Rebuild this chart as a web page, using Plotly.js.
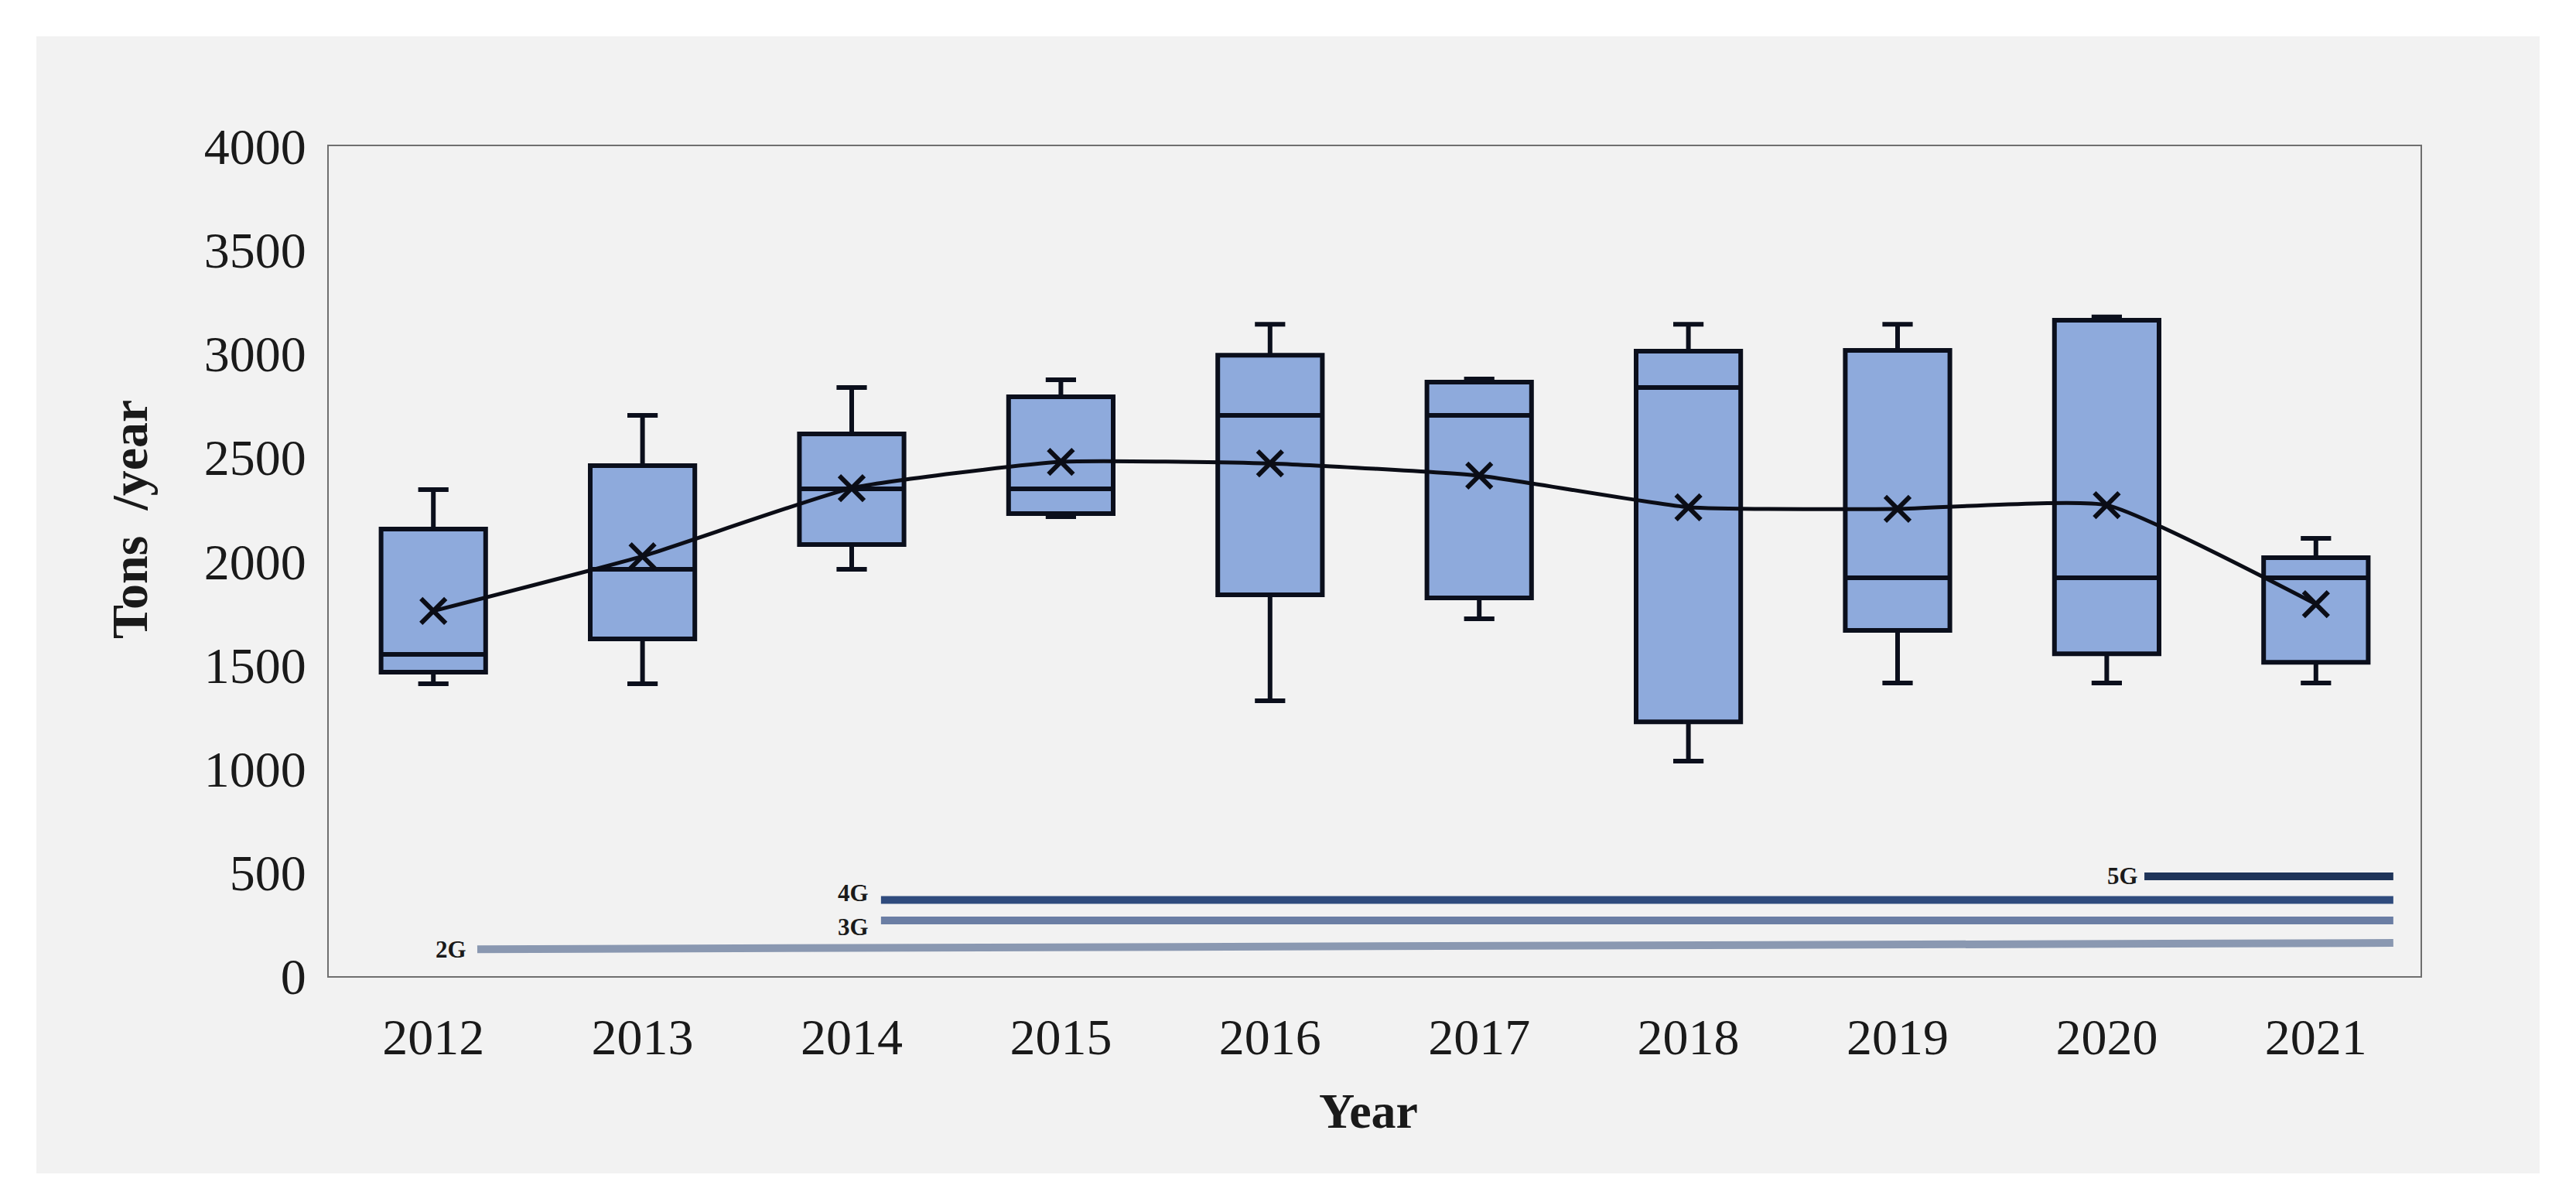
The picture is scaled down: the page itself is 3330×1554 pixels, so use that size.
<!DOCTYPE html>
<html>
<head>
<meta charset="utf-8">
<script src="https://cdn.plot.ly/plotly-3.0.1.min.js"></script>
<style>
  html, body { margin: 0; padding: 0; background: #ffffff; width: 3330px; height: 1554px; overflow: hidden; }
  #chart { position: absolute; left: 47px; top: 47px; width: 3236px; height: 1470px; }
</style>
</head>
<body>
<div id="chart"></div>
<script>
// ---- data ----
const years      = [2012, 2013, 2014, 2015, 2016, 2017, 2018, 2019, 2020, 2021];
const lowerFence = [1409, 1409, 1961, 2214, 1327, 1722, 1036, 1413, 1413, 1413];
const q1         = [1465, 1625, 2080, 2229, 1838, 1823, 1226, 1666, 1554, 1513];
const median     = [1551, 1961, 2349, 2349, 2703, 2703, 2837, 1920, 1920, 1920];
const q3         = [2155, 2460, 2613, 2792, 2993, 2863, 3012, 3016, 3161, 2017];
const upperFence = [2345, 2703, 2837, 2874, 3142, 2878, 3142, 3142, 3177, 2110];
const meanVal    = [1760, 2024, 2352, 2479, 2471, 2412, 2260, 2252, 2270, 1793];

// mobile network generations (timeline bars at the bottom)
const genNames      = ['2G', '3G', '4G', '5G'];
const genStartYear  = [2012.21, 2014.14, 2014.14, 2020.18];
const genEndYear    = [2021.37, 2021.37, 2021.37, 2021.37];
const genLevelStart = [130, 268, 367, 481];
const genLevelEnd   = [160, 268, 367, 481];

const yTicks = [0, 500, 1000, 1500, 2000, 2500, 3000, 3500, 4000];

// ---- styles ----
const serif = 'Liberation Serif, Times New Roman, serif';
const genColors = ['#8a98b1', '#6b7ea4', '#2f4b7d', '#1f3459'];
const genLabelShift = [[-12, 0], [-14, -8], [-14, 9], [-6, 0]];

const traces = [];

genNames.forEach((g, i) => {
  traces.push({
    type: 'scatter', mode: 'lines',
    x: [genStartYear[i], genEndYear[i]],
    y: [genLevelStart[i], genLevelEnd[i]],
    line: { color: genColors[i], width: 10 },
    hoverinfo: 'skip', showlegend: false
  });
});

traces.push({
  type: 'box',
  x: years,
  q1: q1, median: median, q3: q3,
  lowerfence: lowerFence, upperfence: upperFence,
  boxpoints: false,
  width: 0.5,
  whiskerwidth: 0.29,
  fillcolor: '#8eaadc',
  line: { color: '#0b0f1c', width: 6 },
  showlegend: false
});

traces.push({
  type: 'scatter', mode: 'lines+markers',
  x: years, y: meanVal,
  line: { color: '#0b0d16', width: 5, shape: 'spline', smoothing: 0.45 },
  marker: { symbol: 'x-thin', size: 32, color: '#0b0d16', line: { color: '#0b0d16', width: 6 } },
  showlegend: false
});

const annotations = genNames.map((g, i) => ({
  x: genStartYear[i], y: genLevelStart[i], xref: 'x', yref: 'y',
  text: g, showarrow: false, xanchor: 'right', yanchor: 'middle',
  xshift: genLabelShift[i][0], yshift: genLabelShift[i][1],
  font: { family: serif, size: 31, color: '#1a1a1a', weight: 'bold' }
}));

annotations.push({
  x: -0.095, y: 0.55, xref: 'paper', yref: 'paper',
  text: '<b>Tons  /year</b>', textangle: -90, showarrow: false,
  xanchor: 'center', yanchor: 'middle',
  font: { family: serif, size: 66, color: '#1a1a1a' }
});
annotations.push({
  x: 0.497, y: -0.163, xref: 'paper', yref: 'paper',
  text: '<b>Year</b>', showarrow: false,
  xanchor: 'center', yanchor: 'middle',
  font: { family: serif, size: 64, color: '#1a1a1a' }
});

const axisCommon = {
  showgrid: false, zeroline: false,
  showline: true, mirror: true, linecolor: '#6f6f6f', linewidth: 2,
  ticks: '',
  tickfont: { family: serif, size: 66, color: '#1a1a1a' }
};

const layout = {
  width: 3236, height: 1470,
  paper_bgcolor: '#f2f2f2', plot_bgcolor: '#f2f2f2',
  margin: { l: 378, r: 154, t: 142, b: 255 },
  showlegend: false,
  xaxis: Object.assign({}, axisCommon, {
    range: [2011.5, 2021.5],
    tickvals: years, ticktext: years.map(String),
    ticklabelstandoff: 20
  }),
  yaxis: Object.assign({}, axisCommon, {
    range: [0, 4000],
    tickvals: yTicks, ticktext: yTicks.map(String),
    ticklabelstandoff: 14
  }),
  annotations: annotations
};

Plotly.newPlot('chart', traces, layout, { displayModeBar: false, staticPlot: true });
</script>
</body>
</html>
